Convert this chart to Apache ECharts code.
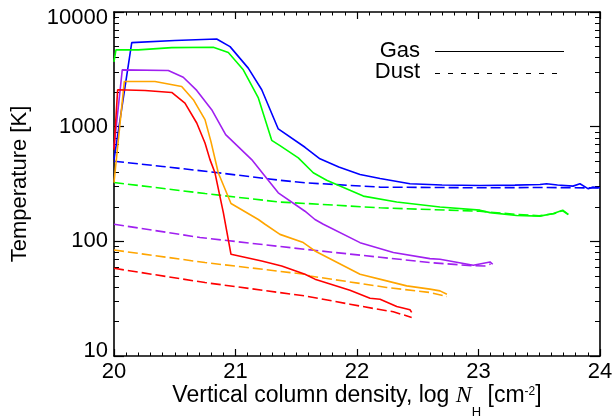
<!DOCTYPE html>
<html><head><meta charset="utf-8">
<script src="https://cdn.jsdelivr.net/npm/echarts@6/dist/echarts.min.js"></script>
<style>html,body{margin:0;padding:0;background:#fff}#c{width:615px;height:416px}</style>
</head><body><div id="c"></div>
<script>
// tick definitions
const xMin = 20, xMax = 24, xStep = 1;
const yMin = 10, yMax = 10000;

// data: [log N_H, T]
const blueGas = [[20.0,516],[20.146,5410],[20.5,5650],[20.845,5820],[20.955,4990],[21.105,3240],[21.216,2100],[21.352,955],[21.572,661],[21.695,524],[21.85,444],[22.025,383],[22.19,353],[22.436,318],[22.7,310],[23.012,307],[23.3,309],[23.506,313],[23.56,318],[23.65,310],[23.778,303],[23.835,318],[23.904,287],[23.942,297],[24.0,293]];
const blueDust = [[20.0,500],[20.4,450],[20.8,403],[21.366,341],[21.572,324],[22.19,297],[23.01,293],[23.5,295],[24.0,292]];

const greenGas = [[20.0,3670],[20.016,4670],[20.2,4670],[20.475,4890],[20.817,4930],[20.941,4430],[21.064,3130],[21.188,1780],[21.298,760],[21.366,684],[21.517,534],[21.64,396],[21.75,341],[22.052,248],[22.327,220],[22.683,199],[23.012,187],[23.095,178],[23.314,168],[23.506,166],[23.616,175],[23.693,187],[23.739,172]];
const greenDust = [[20.0,326],[20.75,261],[21.366,220],[21.572,214],[22.19,196],[23.01,183],[23.3,172],[23.5,167],[23.62,174],[23.69,185],[23.739,171]];

const purpleGas = [[20.0,656],[20.068,3130],[20.447,3090],[20.57,2700],[20.681,2070],[20.804,1406],[20.919,851],[21.133,516],[21.243,370],[21.352,265],[21.572,183],[21.654,155],[21.723,141],[22.025,97.4],[22.299,79.8],[22.6,70.7],[22.683,69.7],[22.957,61.8],[23.095,66.1],[23.117,63.1]];
const purpleDust = [[20.0,141],[20.708,108],[21.572,85.2],[22.6,65.3],[22.955,61.2],[23.05,61],[23.1,63.5]];

const orangeGas = [[20.0,326],[20.085,2480],[20.337,2480],[20.557,2240],[20.653,1718],[20.749,1151],[20.798,741],[20.858,396],[20.963,214],[21.188,155],[21.243,141],[21.366,115],[21.558,97.5],[21.654,82.4],[22.025,51.6],[22.244,45.2],[22.409,40.9],[22.6,38.3],[22.683,37],[22.74,34.6]];
const orangeDust = [[20.0,84],[20.749,65.3],[21.572,51.6],[21.613,49.9],[22.244,39.6],[22.6,35.8],[22.74,33]];

const redGas = [[20.0,631],[20.03,2100],[20.255,2070],[20.475,1987],[20.584,1607],[20.681,1077],[20.749,721],[20.79,516],[20.831,396],[20.9,178],[20.963,77.1],[21.216,67.4],[21.38,61],[21.572,51.6],[21.654,46.8],[21.942,37.5],[22.107,31.9],[22.19,31.3],[22.327,27],[22.436,25.3],[22.45,24]];
const redDust = [[20.0,58.2],[20.749,43.7],[21.572,33.4],[21.942,28.3],[22.134,26],[22.299,24.3],[22.45,21.7]];

const models = [
  {color:'#0000ff', gas: blueGas, dust: blueDust},
  {color:'#00ff00', gas: greenGas, dust: greenDust},
  {color:'#a020f0', gas: purpleGas, dust: purpleDust},
  {color:'#ffa500', gas: orangeGas, dust: orangeDust},
  {color:'#ff0000', gas: redGas, dust: redDust}
];

const FONT = 'Liberation Sans';
const FS = 22;
const series = [];
models.forEach(m => {
  series.push({type:'line', data:m.gas, showSymbol:false, symbol:'none', silent:true, animation:false,
    lineStyle:{color:m.color, width:1.6, type:'solid'}});
  series.push({type:'line', data:m.dust, showSymbol:false, symbol:'none', silent:true, animation:false,
    lineStyle:{color:m.color, width:1.6, type:[10,4]}});
});

const axisLine = {show:true, lineStyle:{color:'#000', width:1.6}};
function xAx(pos, show) {
  return {type:'value', position:pos, min:xMin, max:xMax, interval:xStep,
    axisLine: axisLine,
    axisTick:{show:true, inside:true, length:7, lineStyle:{color:'#000', width:1.2}},
    minorTick:{show:true, splitNumber:10, length:3.5, lineStyle:{color:'#000', width:1}},
    splitLine:{show:false}, minorSplitLine:{show:false},
    axisLabel:{show:show, color:'#000', fontFamily:FONT, fontSize:FS, margin:5}
  };
}
function yAx(pos, show) {
  return {type:'log', logBase:10, position:pos, min:yMin, max:yMax,
    axisLine: axisLine,
    axisTick:{show:true, inside:true, length:10, lineStyle:{color:'#000', width:1.2}},
    minorTick:{show:true, splitNumber:9, length:5, lineStyle:{color:'#000', width:1}},
    splitLine:{show:false}, minorSplitLine:{show:false},
    axisLabel:{show:show, color:'#000', fontFamily:FONT, fontSize:FS, margin:6,
      formatter: v => v >= yMax ? '{t|' + v + '}' : (v <= yMin ? '{b|' + v + '}' : '{m|' + v + '}'),
      rich:{
        t:{fontFamily:FONT, fontSize:FS, color:'#000', padding:[11,0,0,0]},
        b:{fontFamily:FONT, fontSize:FS, color:'#000', padding:[0,0,11,0]},
        m:{fontFamily:FONT, fontSize:FS, color:'#000'}
      }}
  };
}

const xa0 = xAx('bottom', true);
xa0.name = '{m|Vertical column density, log }{i|N}{s|H}{m| [cm}{p|-2}{m|]}';
xa0.nameLocation = 'middle';
xa0.nameGap = 16;
xa0.nameMoveOverlap = false;
xa0.nameTextStyle = {color:'#000', fontFamily:FONT, fontSize:23,
  rich:{
    m:{fontFamily:FONT, fontSize:23, color:'#000'},
    i:{fontFamily:'Liberation Serif', fontStyle:'italic', fontSize:24, color:'#000'},
    s:{fontFamily:FONT, fontSize:13, color:'#000', padding:[34,0,0,0]},
    p:{fontFamily:FONT, fontSize:12, color:'#000', padding:[0,0,8,0]}
  }};
const ya0 = yAx('left', true);
ya0.name = 'Temperature [K]';
ya0.nameLocation = 'middle';
ya0.nameGap = 83;
ya0.nameMoveOverlap = false;
ya0.nameTextStyle = {color:'#000', fontFamily:FONT, fontSize:FS};

const chart = echarts.init(document.getElementById('c'), null, {renderer:'canvas'});
chart.setOption({
  backgroundColor:'#fff',
  animation:false,
  grid:{left:114, right:15, top:12, bottom:60, outerBoundsMode:'none', containLabel:false},
  xAxis:[xa0, xAx('top', false)],
  yAxis:[ya0, yAx('right', false)],
  series: series,
  graphic:[
    {type:'text', style:{text:'Gas', font:FS + 'px "Liberation Sans"', fill:'#000', textAlign:'right', textVerticalAlign:'middle'}, x:420, y:51},
    {type:'text', style:{text:'Dust', font:FS + 'px "Liberation Sans"', fill:'#000', textAlign:'right', textVerticalAlign:'middle'}, x:420, y:72},
    {type:'line', shape:{x1:435, y1:51.5, x2:564, y2:51.5}, style:{stroke:'#000', lineWidth:1.2}},
    {type:'line', shape:{x1:435, y1:73.5, x2:560, y2:73.5}, style:{stroke:'#000', lineWidth:1.2, lineDash:[5,8]}}
  ]
});
</script>
</body></html>
